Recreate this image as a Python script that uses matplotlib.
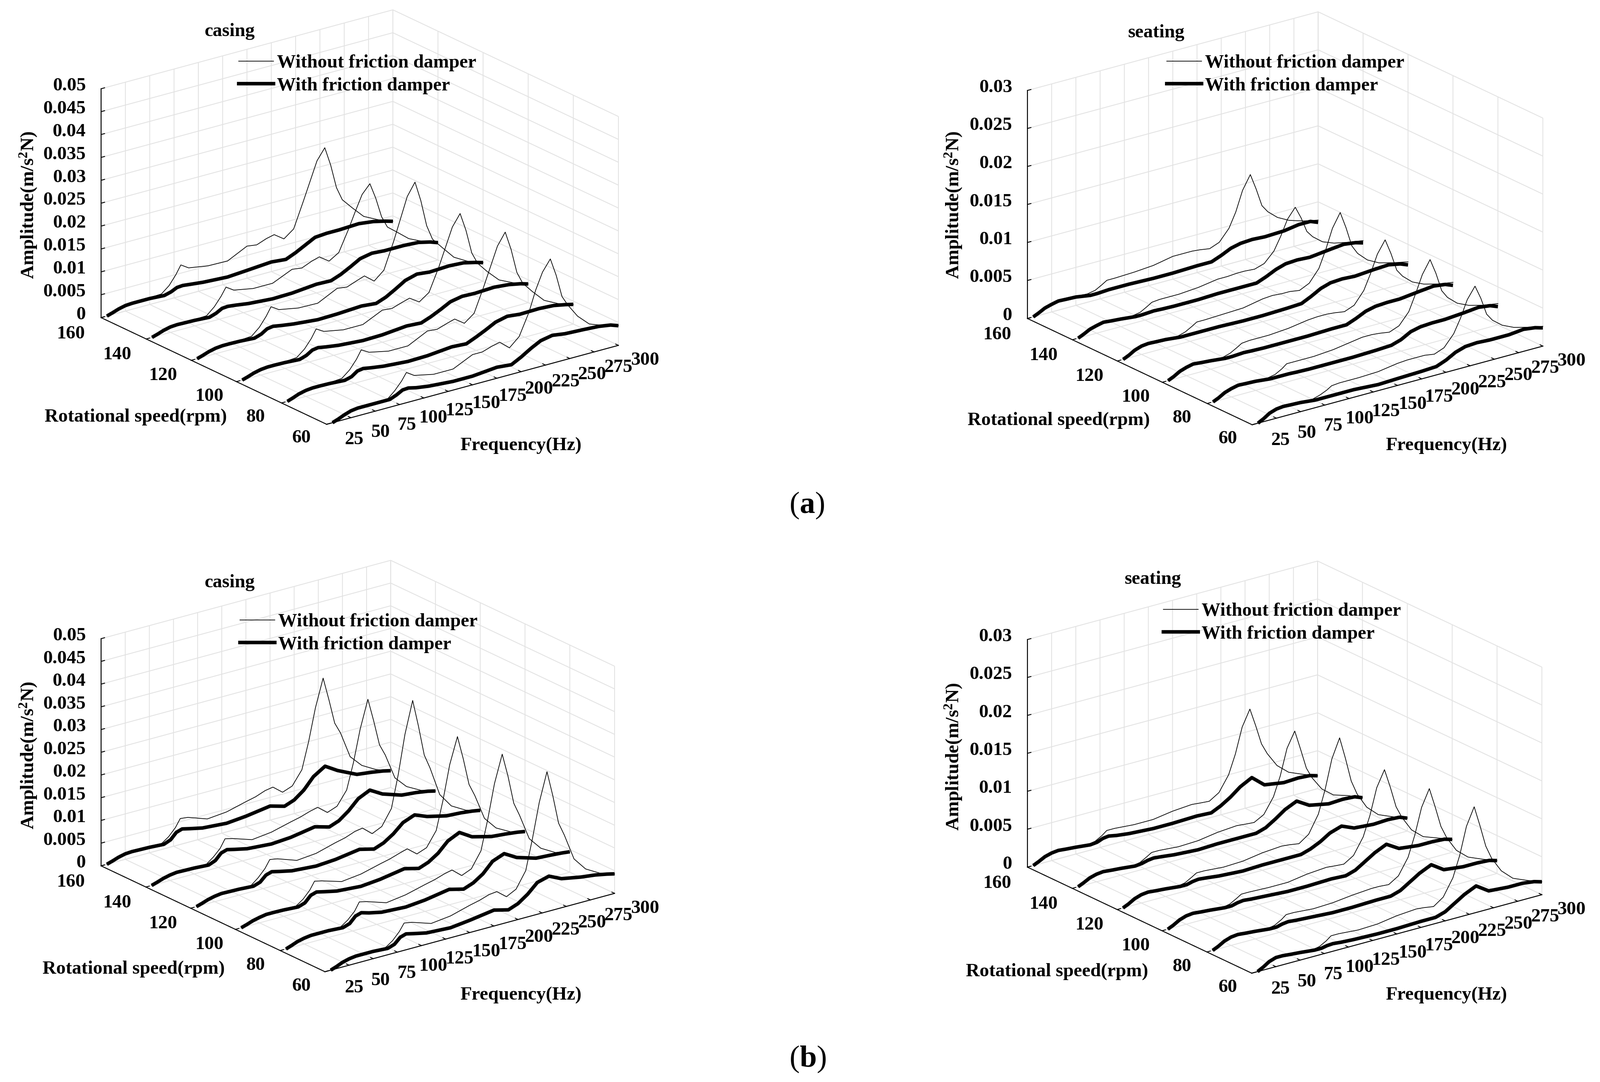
import matplotlib
matplotlib.use("Agg")
import matplotlib.pyplot as plt
from matplotlib.lines import Line2D
from mpl_toolkits.mplot3d import proj3d

plt.rcParams['font.family'] = ['Liberation Serif', 'DejaVu Serif']
plt.rcParams['font.weight'] = 'bold'
plt.rcParams['mathtext.fontset'] = 'custom'
plt.rcParams['mathtext.bf'] = 'Liberation Serif:bold'
plt.rcParams['mathtext.rm'] = 'Liberation Serif:bold'

W, H = 3767, 2548
FS = 32

# rotational speeds, back row first
speeds = [160, 140, 120, 100, 80, 60]
freq_ticks = [25, 50, 75, 100, 125, 150, 175, 200, 225, 250, 275, 300]
speed_ticks = [60, 80, 100, 120, 140, 160]

# frequency points (Hz)
freq_thin = [6, 15, 25, 35, 50, 62, 70, 77, 82, 90, 110, 130, 150, 160, 170, 178, 188, 198, 208, 215, 222, 230, 236, 242, 248, 258, 270, 285, 300]
freq_thick = [6, 12, 18, 25, 32, 40, 50, 65, 72, 78, 84, 92, 105, 130, 150, 175, 190, 200, 210, 220, 232, 245, 265, 280, 292, 300]

# amplitudes below are in 1e-3 m/s2N
casing_a_without = [
    [0, .6, 1.2, 1.4, 1.5, 1.6, 3.0, 5.0, 6.8, 5.7, 5.0, 4.9, 7.0, 6.7, 7.5, 7.9, 6.4, 8.0, 13.5, 17.5, 21.5, 23.9, 19.8, 14.5, 11.5, 9.2, 6.6, 5.0, 3.8],
    [0, .6, 1.2, 1.3, 1.4, 1.5, 3.0, 4.9, 6.6, 5.5, 4.7, 4.7, 6.6, 6.3, 7.2, 7.7, 6.2, 7.5, 12.0, 15.5, 18.8, 20.7, 17.2, 12.8, 10.2, 8.5, 6.4, 4.9, 3.8],
    [0, .6, 1.2, 1.4, 1.5, 1.7, 3.2, 5.2, 7.0, 5.9, 5.1, 5.0, 7.1, 6.8, 7.6, 8.2, 6.5, 8.3, 14, 18.5, 23, 25.7, 21.3, 15.5, 12.2, 9.8, 7.0, 5.2, 4.1],
    [0, .6, 1.2, 1.4, 1.5, 1.7, 3.1, 5.0, 6.8, 5.8, 5.0, 5.0, 7.0, 6.8, 7.5, 8.0, 6.6, 8.1, 13, 17, 21, 23.5, 19.5, 14.2, 11.6, 9.2, 6.7, 5.2, 4.1],
    [0, .7, 1.3, 1.5, 1.6, 1.8, 3.2, 5.1, 6.9, 5.9, 5.0, 5.0, 7.1, 6.9, 7.6, 8.1, 6.6, 8.2, 13.5, 17.5, 21.5, 24.1, 20, 14.6, 11.9, 9.5, 6.9, 5.3, 4.3],
    [0, .7, 1.5, 1.7, 1.8, 1.8, 3.3, 5.0, 6.6, 5.5, 4.6, 4.6, 6.6, 6.6, 7.3, 7.7, 5.9, 7.8, 12.5, 17, 20.5, 22.9, 19, 14, 11.8, 8.8, 6.4, 5.2, 4.3],
]
casing_a_with = [
    [0, .4, .85, 1.2, 1.3, 1.3, 1.3, 1.1, 1.5, 2.1, 2.2, 2.0, 1.7, 1.4, 1.7, 2.1, 1.8, 2.7, 3.8, 4.9, 5.1, 5.1, 5.3, 4.9, 4.3, 3.8],
    [0, .4, .85, 1.2, 1.3, 1.25, 1.2, 1.0, 1.5, 2.2, 2.3, 2.1, 1.7, 1.3, 1.4, 1.9, 1.8, 2.6, 3.7, 4.9, 5.4, 5.2, 5.2, 5.0, 4.4, 3.8],
    [0, .4, .85, 1.2, 1.35, 1.35, 1.3, 1.1, 1.6, 2.4, 2.6, 2.3, 1.9, 1.4, 1.5, 1.8, 1.5, 2.3, 3.5, 4.8, 5.5, 5.2, 5.4, 5.2, 4.6, 4.1],
    [0, .4, .85, 1.2, 1.35, 1.35, 1.3, 1.1, 1.6, 2.4, 2.6, 2.3, 1.9, 1.5, 1.6, 2.1, 1.9, 2.7, 3.7, 4.8, 5.3, 5.2, 5.4, 5.1, 4.6, 4.1],
    [0, .45, .95, 1.3, 1.45, 1.45, 1.4, 1.2, 1.6, 2.5, 2.7, 2.4, 2.0, 1.6, 1.7, 2.2, 2.0, 2.9, 3.9, 5.0, 5.6, 5.3, 5.4, 5.2, 4.7, 4.3],
    [0, .45, 1.0, 1.5, 1.7, 1.7, 1.7, 1.7, 2.3, 3.0, 3.1, 2.7, 2.3, 1.9, 1.9, 2.4, 2.1, 3.2, 4.5, 5.6, 6.1, 5.7, 5.5, 5.3, 4.9, 4.3],
]
seating_a_without = [
    [0, .5, 1.0, 1.2, 1.2, 1.1, 1.3, 1.8, 2.2, 2.2, 2.3, 2.5, 3.0, 3.0, 3.0, 2.9, 2.7, 3.2, 4.7, 6.6, 9.2, 11.0, 8.9, 6.5, 5.5, 4.4, 3.6, 3.0, 2.6],
    [0, .5, 1.0, 1.2, 1.1, 1.0, 1.2, 1.7, 2.1, 2.2, 2.2, 2.4, 2.8, 2.8, 2.9, 2.9, 2.8, 3.2, 4.5, 6.2, 8.2, 9.5, 7.9, 5.9, 5, 4.0, 3.4, 3.0, 2.7],
    [0, .5, 1.1, 1.2, 1.2, 1.1, 1.4, 1.9, 2.3, 2.3, 2.4, 2.5, 3.0, 3.1, 3.0, 3.0, 2.8, 3.4, 5, 7.2, 9.8, 11.6, 9.4, 6.8, 5.6, 4.4, 3.6, 3.1, 2.7],
    [0, .5, 1.1, 1.3, 1.2, 1.1, 1.4, 1.9, 2.3, 2.4, 2.4, 2.6, 3.0, 3.1, 3.1, 3.0, 2.8, 3.3, 4.9, 6.9, 9.2, 10.8, 8.8, 6.4, 5.4, 4.3, 3.6, 3.1, 2.8],
    [0, .5, 1.1, 1.3, 1.2, 1.2, 1.4, 1.9, 2.4, 2.4, 2.4, 2.6, 3.0, 3.2, 3.2, 3.1, 2.9, 3.4, 4.9, 7, 9.3, 11, 9, 6.5, 5.4, 4.3, 3.6, 3.1, 2.8],
    [0, .6, 1.2, 1.3, 1.3, 1.2, 1.5, 1.9, 2.3, 2.4, 2.4, 2.5, 2.9, 3.0, 3.0, 3.0, 2.8, 3.3, 4.8, 6.6, 8.8, 10.3, 8.5, 6.2, 5.2, 4.2, 3.5, 3.0, 2.6],
]
seating_a_with = [
    [0, .35, .75, 1.0, 1.2, 1.15, 1.1, .8, .8, .85, .9, .9, .9, .8, .8, .9, .9, 1.4, 2.0, 2.3, 2.4, 2.3, 2.4, 2.7, 2.7, 2.3],
    [0, .35, .75, 1.0, 1.2, 1.1, 1.0, .8, .8, .85, .9, .85, .8, .8, .9, .9, .9, 1.4, 2.0, 2.4, 2.5, 2.4, 2.7, 2.9, 2.7, 2.4],
    [0, .35, .8, 1.1, 1.2, 1.15, 1.1, .9, .9, .9, .9, .9, .9, .8, .8, .9, 1.0, 1.6, 2.3, 2.7, 2.8, 2.7, 2.9, 3.0, 2.7, 2.3],
    [0, .35, .8, 1.1, 1.3, 1.2, 1.1, .9, .9, .95, 1.0, .95, .9, .9, .9, 1.0, 1.0, 1.5, 2.1, 2.4, 2.5, 2.5, 2.8, 3.0, 2.8, 2.4],
    [0, .35, .8, 1.1, 1.3, 1.25, 1.2, 1.0, 1.0, 1.0, 1.0, .95, .9, .9, .9, 1.0, 1.1, 1.5, 2.2, 2.5, 2.6, 2.6, 2.8, 3.0, 2.8, 2.4],
    [0, .4, .9, 1.2, 1.3, 1.25, 1.2, 1.0, 1.0, 1.0, 1.0, 1.0, 1.0, .8, .9, 1.0, 1.1, 1.6, 2.3, 2.7, 2.8, 2.7, 2.7, 2.9, 2.7, 2.4],
]
casing_b_without = [
    [0, .6, 1.2, 1.3, 1.3, 1.2, 2.4, 4.0, 5.7, 5.5, 4.0, 4.4, 5.5, 6.0, 6.8, 7.1, 5.4, 6.2, 9.2, 15, 22, 28.1, 23, 17.5, 15, 9.2, 6.6, 4.8, 3.7],
    [0, .6, 1.2, 1.4, 1.4, 1.3, 2.6, 4.1, 5.9, 5.5, 4.1, 4.6, 5.7, 6.2, 6.9, 7.3, 5.6, 6.4, 9.4, 15, 22, 28.1, 23, 17.4, 14.8, 9.2, 6.6, 4.9, 3.9],
    [0, .6, 1.2, 1.4, 1.4, 1.3, 2.7, 4.3, 6.0, 5.7, 4.2, 4.6, 5.8, 6.3, 7.1, 7.4, 5.6, 6.6, 10, 17, 25.5, 32.5, 26.5, 19.8, 16.6, 10.2, 7.0, 5.2, 4.3],
    [0, .6, 1.2, 1.5, 1.5, 1.4, 2.6, 4.2, 5.9, 5.5, 4.2, 4.7, 5.8, 6.3, 7.0, 7.5, 5.8, 6.6, 9.8, 16, 23.5, 29.2, 24, 18, 15.2, 9.6, 6.8, 5.1, 4.3],
    [0, .7, 1.3, 1.5, 1.6, 1.5, 2.7, 4.2, 6.0, 5.6, 4.2, 4.8, 5.9, 6.4, 7.1, 7.5, 5.7, 6.6, 10, 16.5, 24, 30, 24.8, 18.5, 15.5, 9.8, 7, 5.2, 4.5],
    [0, .7, 1.4, 1.6, 1.7, 1.6, 2.8, 4.4, 6.0, 5.7, 4.3, 4.8, 6.0, 6.5, 7.2, 7.4, 5.7, 6.8, 10.3, 17, 24.5, 30.8, 25.2, 18.8, 15.8, 10, 7.1, 5.3, 4.3],
]
casing_b_with = [
    [0, .4, .85, 1.2, 1.3, 1.25, 1.2, 1.0, 1.6, 2.9, 3.3, 2.9, 2.3, 1.9, 2.3, 3.1, 2.2, 3.0, 4.6, 7.0, 8.6, 6.9, 4.9, 4.5, 4.1, 3.7],
    [0, .4, .85, 1.2, 1.4, 1.35, 1.3, 1.1, 1.7, 3.0, 3.4, 3.0, 2.4, 2.0, 2.3, 3.2, 2.3, 3.1, 4.7, 6.8, 8.0, 6.4, 5.0, 4.7, 4.3, 3.9],
    [0, .4, .85, 1.2, 1.4, 1.35, 1.3, 1.1, 1.6, 2.8, 3.2, 2.8, 2.2, 1.8, 2.1, 2.9, 2.1, 2.9, 4.3, 6.2, 7.2, 6.1, 5.1, 4.9, 4.6, 4.3],
    [0, .4, .85, 1.2, 1.45, 1.45, 1.4, 1.2, 1.7, 3.0, 3.4, 3.0, 2.4, 2.0, 2.4, 3.3, 2.5, 3.3, 4.7, 6.8, 8.0, 6.3, 5.2, 4.9, 4.6, 4.3],
    [0, .45, .95, 1.3, 1.5, 1.5, 1.5, 1.3, 1.8, 3.1, 3.5, 3.0, 2.4, 2.1, 2.5, 3.4, 2.6, 3.4, 4.8, 7.0, 8.0, 6.4, 5.1, 4.9, 4.7, 4.5],
    [0, .45, 1.0, 1.4, 1.6, 1.6, 1.6, 1.4, 1.9, 3.1, 3.5, 3.1, 2.5, 2.2, 2.7, 3.5, 2.7, 3.5, 5.0, 7.0, 7.7, 6.4, 5.6, 5.2, 4.7, 4.3],
]
seating_b_without = [
    [0, .5, 1.0, 1.1, 1.0, .8, 1.0, 1.5, 2.0, 2.0, 1.8, 1.8, 2.2, 2.3, 2.4, 2.3, 2.2, 3.0, 5.0, 7.5, 10.8, 12.9, 10.5, 7.9, 6.4, 4.5, 3.2, 2.4, 1.7],
    [0, .5, 1.0, 1.1, .9, .8, 1.0, 1.5, 1.9, 1.9, 1.7, 1.8, 2.2, 2.3, 2.4, 2.3, 2.2, 2.9, 4.9, 7.4, 10.8, 12.8, 10.2, 7.5, 6, 4.2, 3.0, 2.4, 1.6],
    [0, .5, 1.1, 1.2, 1.0, .9, 1.1, 1.6, 2.0, 2.0, 1.8, 1.9, 2.3, 2.4, 2.5, 2.4, 2.2, 3.1, 5.4, 8.4, 12.2, 14.7, 11.8, 8.6, 6.7, 4.6, 3.2, 2.4, 1.7],
    [0, .5, 1.1, 1.2, 1.0, .9, 1.1, 1.6, 2.0, 2.0, 1.9, 1.9, 2.3, 2.4, 2.5, 2.4, 2.3, 3.1, 5.2, 7.8, 11.2, 13.3, 10.8, 8, 6.4, 4.4, 3.1, 2.4, 1.7],
    [0, .5, 1.1, 1.2, 1.0, .9, 1.1, 1.6, 2.1, 2.1, 1.9, 2.0, 2.3, 2.4, 2.5, 2.5, 2.4, 3.2, 5.3, 8, 11.4, 13.6, 11, 8.2, 6.5, 4.5, 3.2, 2.4, 1.7],
    [0, .6, 1.2, 1.2, 1.1, .9, 1.1, 1.6, 2.1, 2.1, 1.9, 2.0, 2.4, 2.5, 2.6, 2.5, 2.3, 3.2, 5.4, 8.1, 11.7, 14.0, 11.3, 8.4, 6.6, 4.6, 3.2, 2.4, 1.7],
]
seating_b_with = [
    [0, .35, .75, 1.0, 1.1, 1.0, .9, .7, .8, 1.1, 1.2, 1.0, .8, .6, .6, .7, .6, 1.2, 2.0, 3.0, 3.8, 2.4, 2.0, 2.1, 2.0, 1.7],
    [0, .35, .75, 1.0, 1.1, 1.0, .9, .7, .8, 1.0, 1.1, 1.0, .8, .6, .7, .7, .7, 1.1, 1.9, 2.8, 3.5, 2.5, 2.0, 2.1, 2.0, 1.6],
    [0, .35, .8, 1.1, 1.2, 1.1, 1.0, .8, .8, 1.0, 1.1, 1.0, .8, .6, .7, .7, .7, 1.1, 1.7, 2.5, 3.0, 2.3, 2.1, 2.2, 2.1, 1.7],
    [0, .35, .8, 1.1, 1.2, 1.1, 1.0, .8, .8, 1.0, 1.1, 1.0, .9, .7, .7, .8, .7, 1.1, 1.9, 2.7, 3.4, 2.4, 2.1, 2.1, 2.0, 1.7],
    [0, .35, .8, 1.1, 1.2, 1.1, 1.0, .8, .8, 1.0, 1.1, 1.0, .9, .7, .7, .8, .8, 1.2, 2.0, 2.8, 3.5, 2.4, 2.1, 2.1, 2.0, 1.7],
    [0, .4, .9, 1.2, 1.2, 1.1, 1.0, .8, .8, .95, 1.0, .9, .8, .7, .7, .8, .8, 1.2, 2.0, 2.8, 3.5, 2.4, 2.2, 2.2, 2.0, 1.7],
]

casing_ticks = [0, 0.005, 0.01, 0.015, 0.02, 0.025, 0.03, 0.035, 0.04, 0.045, 0.05]
seating_ticks = [0, 0.005, 0.01, 0.015, 0.02, 0.025, 0.03]


def fx(px):
    return px / W


def fy(py):
    return 1 - py / H


def to_pixels(ax, x, y, z):
    px, py, _ = proj3d.proj_transform(x, y, z, ax.get_proj())
    return ax.transData.transform((px, py))


def draw_panel(name, without, with_damper, zticks, corner, zlen, title_xy, legend_xy, rot_xy, freq_xy, zlab_xy):
    zmax = zticks[-1]
    ax = fig.add_axes([0.1, 0.1, 1600 / W, 1600 / H], projection='3d', proj_type='ortho')
    ax.patch.set_visible(False)
    ax.computed_zorder = False
    ax.view_init(elev=20.96, azim=-127.1)
    aspect = (861, 880, 577)
    ax.set_box_aspect(aspect)
    ax.set_xlim(0, 300, view_margin=0)
    ax.set_ylim(60, 160, view_margin=0)
    ax.set_zlim(0, zmax, view_margin=0)

    z = 0
    for row in range(len(speeds)):
        ax.plot(freq_thin, [speeds[row]] * len(freq_thin), [v * 1e-3 for v in without[row]],
                color='black', lw=1.2, zorder=10 + z, solid_joinstyle='round')
        ax.plot(freq_thick, [speeds[row]] * len(freq_thick), [v * 1e-3 for v in with_damper[row]],
                color='black', lw=6, zorder=11 + z, solid_capstyle='butt', solid_joinstyle='round')
        z += 2

    # tick labels sit further out than the ticks, so they are placed as text below
    ax.set_xticks(freq_ticks)
    ax.set_yticks(speed_ticks)
    ax.set_zticks(zticks)
    ax.set_xticklabels([''] * len(freq_ticks))
    ax.set_yticklabels([''] * len(speed_ticks))
    ax.set_zticklabels([''] * len(zticks))

    for axis in (ax.xaxis, ax.yaxis, ax.zaxis):
        axis.set_pane_color((1, 1, 1, 0))
        axis.pane.set_edgecolor('#d8d8d8')
        axis.pane.set_linewidth(1.5)
        axis.line.set_color('black')
        axis.line.set_linewidth(1.6)
        axis._axinfo['grid']['color'] = '#e2e2e2'
        axis._axinfo['grid']['linewidth'] = 1.4
        axis._axinfo['tick']['inward_factor'] = 0.0
        axis._axinfo['tick']['outward_factor'] = 0.15
        axis._axinfo['tick']['linewidth'] = {True: 1.5, False: 1.0}

    # fit the box onto the spot it takes in the reference
    fig.canvas.draw()
    p0 = to_pixels(ax, 0, 160, 0)
    p1 = to_pixels(ax, 0, 160, zmax)
    ax.set_box_aspect(aspect, zoom=zlen / abs(p1[1] - p0[1]))
    fig.canvas.draw()
    p0 = to_pixels(ax, 0, 160, 0)
    pos = ax.get_position()
    ax.set_position([pos.x0 + (corner[0] - p0[0]) / W, pos.y0 + ((H - corner[1]) - p0[1]) / H, pos.width, pos.height])
    fig.canvas.draw()

    for i in range(len(freq_ticks)):
        fig.text(fx(corner[0] + 595 + i * 62.3), fy(corner[1] + 287 - i * 17), str(freq_ticks[i]),
                 fontsize=FS, ha='center', va='center')
    for i in range(len(speed_ticks)):
        fig.text(fx(corner[0] + 472 - i * 108.6), fy(corner[1] + 283 - i * 49), str(speed_ticks[i]),
                 fontsize=FS, ha='center', va='center')
    for t in zticks:
        p = to_pixels(ax, 0, 160, t)
        fig.text(p[0] - 36, p[1] + 7, '%g' % t, fontsize=FS, ha='right', va='center', transform=None)

    fig.text(fx(title_xy[0]), fy(title_xy[1]), name, fontsize=FS, ha='center', va='center')
    fig.text(fx(rot_xy[0]), fy(rot_xy[1]), 'Rotational speed(rpm)', fontsize=FS, ha='center', va='center')
    fig.text(fx(freq_xy[0]), fy(freq_xy[1]), 'Frequency(Hz)', fontsize=FS, ha='center', va='center')
    fig.text(fx(zlab_xy[0]), fy(zlab_xy[1]), r'Amplitude(m/s$\mathbf{^{2}}$N)', fontsize=FS, rotation=90, ha='center', va='center')

    handles = [Line2D([], [], color='black', lw=1.2), Line2D([], [], color='black', lw=6)]
    fig.legend(handles, ['Without friction damper', 'With friction damper'], loc='upper left',
               bbox_to_anchor=(fx(legend_xy[0]), fy(legend_xy[1])), frameon=False, fontsize=FS,
               handlelength=1.85, handletextpad=0.17, labelspacing=0.3, borderpad=0, borderaxespad=0)


fig = plt.figure(figsize=(W / 100, H / 100), dpi=100, facecolor='white')

draw_panel('casing', casing_a_without, casing_a_with, casing_ticks, (238, 748), 539,
           (541, 74), (562, 128), (320, 982), (1226, 1050), (67, 483))
draw_panel('seating', seating_a_without, seating_a_with, seating_ticks, (2419, 750), 537,
           (2722, 77), (2747, 128), (2493, 990), (3405, 1050), (2245, 483))
draw_panel('casing', casing_b_without, casing_b_with, casing_ticks, (238, 2039), 535,
           (541, 1372), (565, 1444), (315, 2282), (1226, 2344), (67, 1779))
draw_panel('seating', seating_b_without, seating_b_with, seating_ticks, (2419, 2042), 536,
           (2714, 1364), (2739, 1419), (2489, 2288), (3405, 2344), (2245, 1782))

fig.text(fx(1900), fy(1190), r'($\mathbf{a}$)', fontsize=52, ha='center', va='center', fontweight='normal')
fig.text(fx(1902), fy(2494), r'($\mathbf{b}$)', fontsize=52, ha='center', va='center', fontweight='normal')

fig.savefig('out.png', dpi=100, facecolor='white')
